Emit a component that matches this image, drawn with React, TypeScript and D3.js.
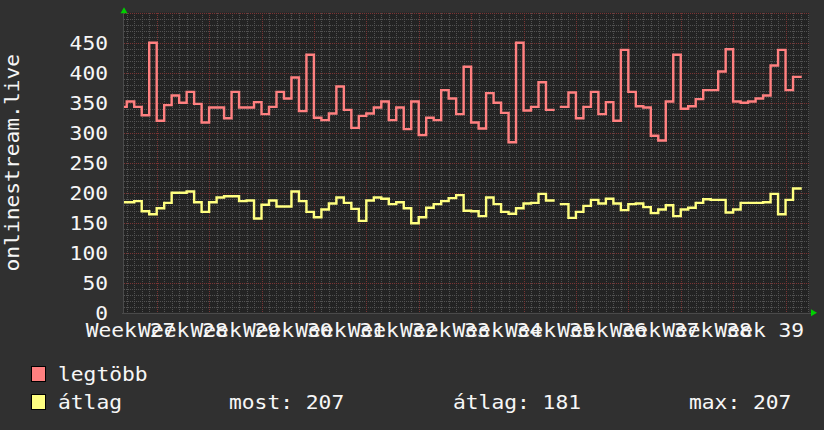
import React, { useEffect } from 'react';
import * as d3 from 'd3';

const DAY = 86400000;
// daily values starting 2023-07-05 (UTC)
const firstDay = Date.UTC(2023, 6, 5);

const legtobb: (number | null)[] = [
  343, 352, 343, 329, 450, 320, 346, 362, 350, 368,
  348, 317, 342, 342, 324, 368, 342, 342, 351, 331,
  343, 368, 357, 392, 336, 430, 325, 321, 332, 377,
  338, 308, 328, 332, 342, 352, 321, 342, 306, 352,
  296, 325, 321, 371, 357, 331, 410, 317, 307, 366,
  350, 333, 284, 450, 337, 343, 384, 338, null, 343,
  367, 324, 343, 368, 331, 351, 320, 438, 368, 344,
  342, 295, 287, 352, 430, 340, 344, 356, 371, 371,
  402, 439, 352, 350, 352, 357, 362, 412, 438, 371,
  393,
];

const atlag: (number | null)[] = [
  184, 184, 186, 169, 164, 174, 183, 200, 200, 202,
  184, 168, 184, 192, 194, 194, 186, 187, 157, 180,
  187, 177, 177, 202, 186, 168, 159, 172, 182, 192,
  183, 173, 153, 187, 192, 190, 181, 184, 174, 149,
  159, 175, 181, 186, 191, 196, 170, 169, 161, 192,
  181, 168, 165, 174, 182, 183, 198, 187, null, 181,
  158, 168, 178, 188, 182, 190, 182, 171, 181, 182,
  176, 166, 172, 179, 161, 172, 175, 183, 189, 188,
  188, 167, 172, 183, 183, 183, 184, 198, 164, 188,
  207,
];

const yTicks = [0, 50, 100, 150, 200, 250, 300, 350, 400, 450];
const weekNumbers = [27, 28, 29, 30, 31, 32, 33, 34, 35, 36, 37, 38, 39];
const weekLabels = weekNumbers.map((n) => `Week ${n}`);
const seriesNames = ['legtöbb', 'átlag'];
const statLabels = ['most: 207', 'átlag: 181', 'max: 207'];

const W = 824;
const H = 430;
const PL = 124;
const PR = 809;
const PT = 12.7;
const PB = 312.7;
const CW = 12.8;
const FONT = "'DejaVu Sans Mono', monospace";

const BG = '#303030';
const CANVAS = '#232323';
const MINOR = '#525252';
const MAJOR = '#7a3434';
const RED = '#ff8080';
const YEL = '#ffff80';
const TXT = '#f6f6f6';

const t0 = Date.UTC(2023, 6, 5, 15, 10);
const t1 = t0 + 91.5 * DAY;

function stepPoints(vals: (number | null)[]) {
  const pts: { t: number; v: number | null }[] = [];
  vals.forEach((v, i) => {
    const s = firstDay + i * DAY;
    if (v == null) {
      pts.push({ t: s, v: null });
    } else {
      pts.push({ t: s, v });
      pts.push({ t: s + DAY, v });
    }
  });
  return pts;
}

function isoMonday(week: number) {
  // ISO week 1 of 2023 starts Mon 2023-01-02
  return Date.UTC(2023, 0, 2) + (week - 1) * 7 * DAY;
}

const Txt = (p: any) => {
  const { text, ...rest } = p;
  return (
    <text
      fontFamily={FONT}
      fontSize={19}
      fill={TXT}
      textLength={text.length * CW}
      lengthAdjust="spacingAndGlyphs"
      {...rest}
    >
      {text}
    </text>
  );
};

export default function App() {
  useEffect(() => {
    document.body.style.margin = '0';
    document.body.style.background = BG;
  }, []);

  const x = d3.scaleUtc().domain([t0, t1]).range([PL, PR]);
  const y = d3.scaleLinear().domain([0, 500]).range([PB, PT]);

  const line = d3
    .line<{ t: number; v: number | null }>()
    .defined((d) => d.v != null)
    .x((d) => x(d.t))
    .y((d) => y(d.v as number));

  const days = d3.utcDay.range(new Date(t0), new Date(t1));
  const mondays = d3.utcMonday.range(new Date(t0), new Date(t1));
  const minorY = d3.range(0, 501, 10).filter((v) => v % 50 !== 0);
  const majorY = d3.range(0, 501, 50);

  return (
    <svg
      width={W}
      height={H}
      style={{ position: 'absolute', left: 0, top: 0, display: 'block' }}
      xmlns="http://www.w3.org/2000/svg"
    >
      <defs>
        <clipPath id="plot">
          <rect x={PL} y={PT} width={PR - PL} height={PB - PT} />
        </clipPath>
      </defs>
      <rect x={0} y={0} width={W} height={H} fill={BG} />
      <rect x={PL} y={PT} width={PR - PL} height={PB - PT} fill={CANVAS} />

      {/* minor grid */}
      <g stroke={MINOR} strokeWidth={1} strokeDasharray="1 1" shapeRendering="crispEdges">
        {days.map((d, i) => (
          <line key={'dv' + i} x1={Math.round(x(d)) + 0.5} x2={Math.round(x(d)) + 0.5} y1={PT} y2={PB} />
        ))}
        {minorY.map((v) => (
          <line key={'hv' + v} x1={PL} x2={PR} y1={Math.round(y(v)) + 0.5} y2={Math.round(y(v)) + 0.5} />
        ))}
      </g>
      {/* major grid */}
      <g stroke={MAJOR} strokeWidth={1} strokeDasharray="1 1" shapeRendering="crispEdges">
        {mondays.map((d, i) => (
          <line key={'mv' + i} x1={Math.round(x(d)) + 0.5} x2={Math.round(x(d)) + 0.5} y1={PT} y2={PB} />
        ))}
        {majorY.map((v) => (
          <line key={'mh' + v} x1={PL} x2={PR} y1={Math.round(y(v)) + 0.5} y2={Math.round(y(v)) + 0.5} />
        ))}
      </g>

      {/* axes */}
      <g stroke="#4a4a4a" strokeWidth={1} shapeRendering="crispEdges">
        <line x1={PL - 0.5} x2={PL - 0.5} y1={PT - 2} y2={PB + 1} />
        <line x1={PL - 2} x2={PR + 2} y1={Math.round(PB) + 0.5} y2={Math.round(PB) + 0.5} />
      </g>
      <path d={`M${PL - 3.5},${PT + 0.5} L${PL + 3.5},${PT + 0.5} L${PL},${PT - 5.5} Z`} fill="#00d000" />
      <path d={`M${PR + 2},${PB - 3.5} L${PR + 2},${PB + 3.5} L${PR + 8},${PB} Z`} fill="#00d000" />

      {/* series */}
      <g clipPath="url(#plot)" fill="none" strokeWidth={2.4} strokeLinejoin="miter" strokeLinecap="square">
        <path d={line(stepPoints(legtobb)) || ''} stroke={RED} />
        <path d={line(stepPoints(atlag)) || ''} stroke={YEL} />
      </g>

      {/* y tick labels */}
      {yTicks.map((v) => (
        <Txt key={'yt' + v} text={String(v)} x={108} y={y(v) + 7} textAnchor="end" />
      ))}

      {/* x labels (overlapping, as in the original) */}
      {weekNumbers.map((n, i) => (
        <Txt
          key={'wl' + n}
          text={weekLabels[i]}
          x={x(isoMonday(n) + 3.5 * DAY)}
          y={337}
          textAnchor="middle"
        />
      ))}

      {/* y title */}
      <Txt text="onlinestream.live" transform={`translate(19,${(PT + PB) / 2}) rotate(-90)`} textAnchor="middle" />

      {/* legend */}
      <rect x={31.5} y={366.5} width={14} height={15} fill={RED} stroke="#000" />
      <Txt text={seriesNames[0]} x={58} y={381} />
      <rect x={31.5} y={394.5} width={14} height={15} fill={YEL} stroke="#000" />
      <Txt text={seriesNames[1]} x={58} y={409} />
      <Txt text={statLabels[0]} x={229} y={409} />
      <Txt text={statLabels[1]} x={453} y={409} />
      <Txt text={statLabels[2]} x={689} y={409} />
    </svg>
  );
}
